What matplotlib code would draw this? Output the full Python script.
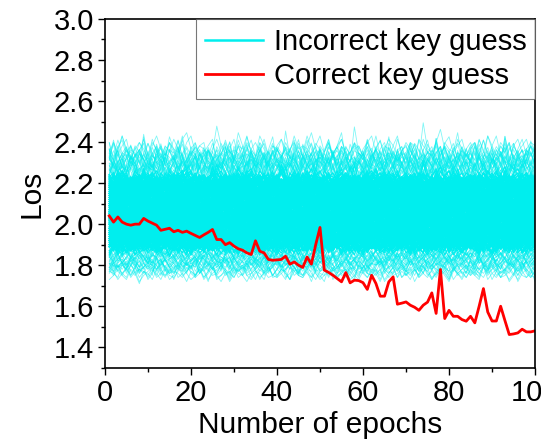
import numpy as np
import matplotlib.pyplot as plt
from matplotlib.ticker import MultipleLocator

plt.rcParams['font.family'] = ['Liberation Sans', 'DejaVu Sans']

epochs = np.arange(1, 101)

# loss of the correct key guess, one value per epoch
correct_loss = [
    2.04, 2.01, 2.035, 2.01, 2.00, 1.995, 2.00, 2.00, 2.028, 2.015,
    2.005, 1.995, 1.97, 1.975, 1.98, 1.963, 1.97, 1.96, 1.966, 1.955,
    1.945, 1.935, 1.948, 1.96, 1.974, 1.925, 1.925, 1.90, 1.91, 1.893,
    1.88, 1.873, 1.86, 1.852, 1.919, 1.868, 1.86, 1.828, 1.824, 1.826,
    1.828, 1.844, 1.805, 1.816, 1.80, 1.789, 1.84, 1.805, 1.90, 1.984,
    1.776, 1.765, 1.751, 1.735, 1.719, 1.764, 1.714, 1.727, 1.725, 1.715,
    1.682, 1.751, 1.711, 1.649, 1.649, 1.719, 1.743, 1.61, 1.615, 1.621,
    1.605, 1.595, 1.58, 1.605, 1.62, 1.665, 1.565, 1.779, 1.54, 1.58,
    1.551, 1.551, 1.535, 1.527, 1.551, 1.519, 1.60, 1.686, 1.572, 1.528,
    1.528, 1.60, 1.53, 1.462, 1.465, 1.47, 1.488, 1.475, 1.475, 1.48,
]

# base loss levels of the incorrect key guesses
upper_levels = [2.35, 2.33, 2.31, 2.30, 2.29, 2.28, 2.27, 2.26, 2.25, 2.24, 2.23]
dense_levels = [
    2.21, 2.20, 2.19, 2.18, 2.17, 2.16, 2.15, 2.14, 2.13, 2.12, 2.11,
    2.10, 2.09, 2.08, 2.07, 2.06, 2.05, 2.04, 2.03, 2.02, 2.01,
    2.00, 1.99, 1.98, 1.97, 1.96, 1.95, 1.94, 1.93, 1.92, 1.91,
    1.90, 1.89, 1.88,
]
lower_levels = [1.86, 1.85, 1.84, 1.83, 1.82, 1.81, 1.80, 1.79, 1.78, 1.76, 1.75]

# epoch-to-epoch fluctuation of the incorrect guesses (hundredths)
wiggles = [
    [0, 3, -1, 2, 4, -2, 1, 3, 0, -3, 2, 5, 1, -1, 3, 0, -2, 4, 6, 1,
     -1, 2, 3, -3, 0, 8, 2, -1, 1, 4, -2, 0, 3, 1, -1, 5, 2, -3, 0, 2,
     4, 1, -2, 3, 0, -1, 2, 6, 1, -2, 0, 3, -1, 2, 4, 0, -3, 1, 2, -1,
     3, 5, 0, -2, 1, 4, 2, -1, 0, 3, 1, -2, 4, 2, 0, -1, 3, 7, 1, -2,
     0, 2, 4, -1, 1, 3, -2, 0, 5, 2, -1, 3, 1, -3, 2, 4, 0, 1, 3, 2],
    [-2, 1, 4, 0, -1, 3, -3, 2, 1, 5, 0, -2, 3, 1, -4, 2, 0, 4, -1, 1,
     3, -2, 0, 5, 1, -3, 2, 0, 4, -1, 2, 6, -2, 0, 3, 1, -1, 4, 0, -3,
     1, 3, -2, 2, 5, -1, 0, 3, 1, -2, 4, 0, -1, 2, -3, 3, 1, 0, 6, -2,
     1, 3, -1, 4, 0, -2, 2, 5, -1, 1, 3, -3, 0, 2, 4, -1, 1, -2, 3, 0,
     5, 1, -2, 2, 0, 4, -1, 3, 1, -2, 2, 0, 4, 1, -1, 3, 5, 0, 2, 1],
    [1, -1, 2, 5, 0, 3, -2, 1, 4, -1, 0, 2, -3, 1, 3, 0, 5, -1, 2, 1,
     -2, 4, 0, -1, 3, 2, -2, 9, 1, 0, 3, -1, 2, 0, -3, 4, 1, -1, 2, 3,
     0, -2, 5, 1, -1, 2, 0, 3, -2, 1, 4, -1, 2, 0, 3, -3, 1, 5, 0, 2,
     -1, 3, 1, -2, 4, 0, 2, -1, 3, 1, 0, 5, -2, 1, 3, -1, 0, 2, 4, -3,
     1, 3, 0, -1, 6, 2, -2, 1, 3, 0, 4, -1, 2, 1, -2, 3, 0, 5, 1, 2],
    [3, 0, -2, 1, 4, 1, -1, 3, -2, 2, 5, 0, 1, -3, 2, 3, -1, 0, 4, 2,
     -1, 1, 3, -2, 0, 4, 6, 1, -2, 3, 0, 1, -1, 5, 2, -2, 0, 3, 1, -1,
     2, 4, 0, -3, 1, 3, -1, 2, 0, 5, 1, -2, 3, 0, 2, -1, 4, 1, -2, 0,
     3, 2, -1, 1, 5, -2, 0, 3, 1, -1, 2, 0, -3, 4, 1, 2, -1, 3, 0, 6,
     1, -2, 2, 4, 0, -1, 3, 1, -2, 2, 5, 0, 3, -1, 1, 4, 2, -2, 3, 1],
    [-1, 2, 0, 3, -2, 4, 1, 0, 2, -1, 3, 1, -2, 0, 5, 2, -1, 3, 0, -2,
     4, 1, -1, 2, 0, 3, -3, 1, 4, 0, 2, -1, 3, 5, 0, -2, 1, 2, -1, 4,
     0, 3, -2, 1, 2, 0, 4, -1, 8, 1, -2, 2, 0, 3, -1, 1, 4, -2, 0, 3,
     2, -1, 0, 4, 1, -3, 2, 1, 3, -1, 0, 2, 5, -1, 1, 3, -2, 0, 2, 4,
     -1, 1, 3, 0, -2, 5, 1, 2, -1, 3, 0, 4, 2, -1, 3, 1, 0, 3, 2, 1],
]

cyan = '#00EEEE'

fig = plt.figure(figsize=(5.41, 4.41), dpi=100)
ax = fig.add_axes([0.194, 0.166, 0.795, 0.791])


def draw_band(levels, copies, lw, alpha, gain):
    for i, lev in enumerate(levels):
        for j in range(copies):
            w = np.array(wiggles[(i + j) % 5]) / 100.0 * gain
            w = np.roll(w, i * 7 + j * 23)
            ax.plot(epochs, lev + w, color=cyan, lw=lw, alpha=alpha)


draw_band(upper_levels, 3, 0.6, 0.5, 1.6)
draw_band(lower_levels, 3, 0.6, 0.5, 1.0)
draw_band(dense_levels, 6, 0.9, 1.0, 1.0)

ax.plot([], [], color=cyan, lw=1.8, label='Incorrect key guess')
ax.plot(epochs, correct_loss, color='#FF0000', lw=2.0, label='Correct key guess')

ax.set_xlim(0, 100)
ax.set_ylim(1.3, 3.0)
ax.xaxis.set_major_locator(MultipleLocator(20))
ax.xaxis.set_minor_locator(MultipleLocator(10))
ax.yaxis.set_minor_locator(MultipleLocator(0.1))
ax.set_yticks([1.4, 1.6, 1.8, 2.0, 2.2, 2.4, 2.6, 2.8, 3.0])
ax.tick_params(which='major', direction='out', length=5, width=1, labelsize=21, pad=3)
ax.tick_params(which='minor', direction='out', length=3, width=1)
for s in ax.spines.values():
    s.set_linewidth(1.2)

ax.set_xlabel('Number of epochs', fontsize=21.5, labelpad=3)
ax.set_ylabel('Los', fontsize=21.5, labelpad=6)

leg = ax.legend(loc='upper right', fontsize=21, frameon=True, fancybox=False,
                borderaxespad=0, handlelength=2.0, handletextpad=0.35,
                labelspacing=0.22, borderpad=0.3)
leg.get_frame().set_edgecolor('#555555')
leg.get_frame().set_linewidth(0.8)

fig.savefig('out.png', dpi=100)
